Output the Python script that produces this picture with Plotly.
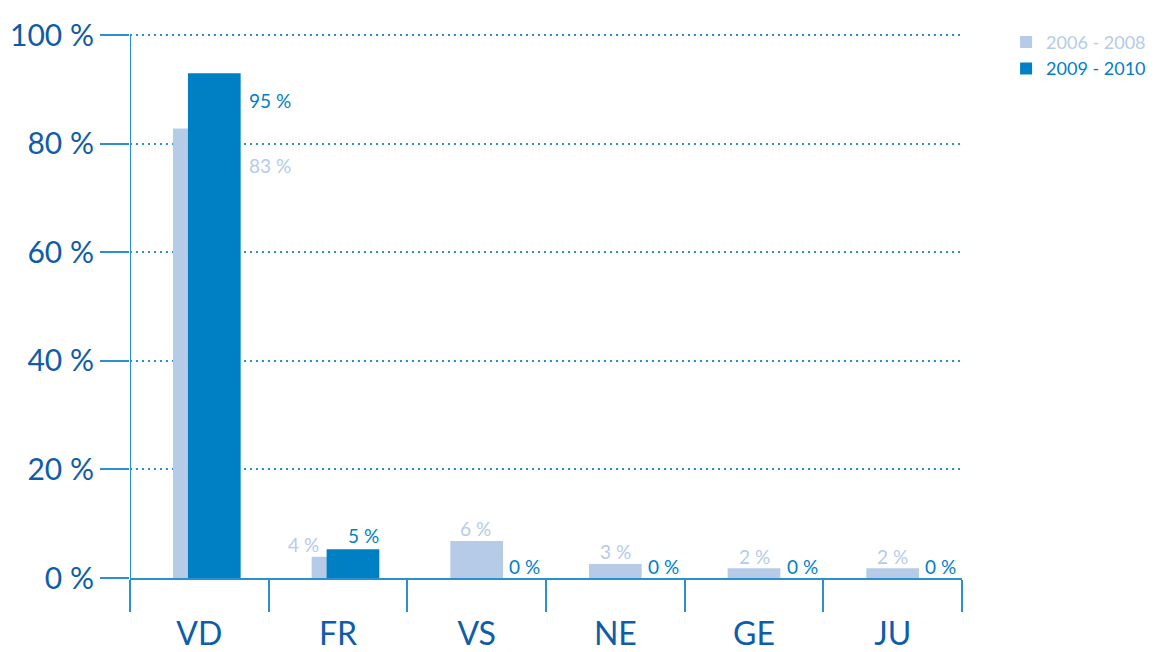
import plotly.graph_objects as go

# ---------------- data ----------------
categories = ["VD", "FR", "VS", "NE", "GE", "JU"]
series_names = ["2006 - 2008", "2009 - 2010"]
values_2006_2008 = [82.8, 3.9, 6.8, 2.6, 1.8, 1.8]
values_2009_2010 = [93.0, 5.3, 0.0, 0.0, 0.0, 0.0]
labels_2006_2008 = ["83 %", "4 %", "6 %", "3 %", "2 %", "2 %"]
labels_2009_2010 = ["95 %", "5 %", "0 %", "0 %", "0 %", "0 %"]
y_tick_values = [0, 20, 40, 60, 80, 100]
y_tick_labels = ["0 %", "20 %", "40 %", "60 %", "80 %", "100 %"]

# ---------------- style ----------------
FONT = "Lato, 'Open Sans', sans-serif"
LIGHT = "#b5cbe8"
DARK = "#0080c4"
AXIS = "#2b8fd0"
TICKTEXT = "#0f5ca8"
BAR_W = 0.38
DARK_SHIFT = 0.108
Y_TOP = 100.6          # a little headroom so the 100 % grid line is drawn
PX_PER_UNIT = 543 / 100
FIG_W, FIG_H = 1146, 644
BOTTOM = 74
LEGEND_TOP_PX = 15.6   # legend box top, in figure pixels

# label offsets in pixels (xshift, yshift) relative to category centre / bar top
light_offsets = [(71, -37), (-35, 12), (-1, 13), (0, 12), (0, 12), (0, 12)]
dark_offsets = [(71, -27), (25, 14), (48, 12), (48, 12), (48, 12), (48, 12)]

idx = list(range(len(categories)))

fig = go.Figure()
fig.add_trace(go.Bar(
    x=idx, y=values_2006_2008, width=BAR_W, offset=-BAR_W / 2,
    marker=dict(color=LIGHT, line=dict(width=0)),
    name=f"<span style='color:{LIGHT}'>{series_names[0]}</span>",
    hoverinfo="skip",
))
fig.add_trace(go.Bar(
    x=idx, y=values_2009_2010, width=BAR_W, offset=-BAR_W / 2 + DARK_SHIFT,
    marker=dict(color=DARK, line=dict(width=0)),
    name=f"<span style='color:{DARK}'>{series_names[1]}</span>",
    hoverinfo="skip",
))

annotations = []
for i in idx:
    for vals, labs, offs, col in (
        (values_2006_2008, labels_2006_2008, light_offsets, LIGHT),
        (values_2009_2010, labels_2009_2010, dark_offsets, DARK),
    ):
        annotations.append(dict(
            x=i, y=vals[i], xref="x", yref="y", text=labs[i], showarrow=False,
            xshift=offs[i][0], yshift=offs[i][1],
            font=dict(family=FONT, size=19, color=col),
        ))

top_margin = 27 - (Y_TOP - 100) * PX_PER_UNIT
plot_h = FIG_H - top_margin - BOTTOM
legend_y = 1 + (top_margin - LEGEND_TOP_PX) / plot_h

fig.update_layout(
    width=FIG_W, height=FIG_H,
    margin=dict(l=122, r=192, t=top_margin, b=BOTTOM, autoexpand=False),
    paper_bgcolor="white", plot_bgcolor="white",
    barmode="overlay",
    font=dict(family=FONT),
    showlegend=True,
    legend=dict(
        x=1.053, y=legend_y,
        xanchor="left", yanchor="top",
        font=dict(family=FONT, size=18), bgcolor="rgba(0,0,0,0)",
        itemwidth=30, tracegroupgap=0,
    ),
    annotations=annotations,
    xaxis=dict(
        range=[-0.5, len(categories) - 0.5],
        tickmode="array", tickvals=idx, ticktext=categories,
        ticks="outside", ticklen=27, tickcolor="rgba(0,0,0,0)",
        tickfont=dict(family=FONT, size=32, color=TICKTEXT),
        showline=True, linecolor=AXIS, linewidth=2,
        showgrid=False, zeroline=False, automargin=False,
        minor=dict(
            tickmode="array",
            tickvals=[i - 0.5 for i in range(len(categories) + 1)],
            ticks="outside", ticklen=32, tickwidth=2, tickcolor=AXIS,
            showgrid=False,
        ),
    ),
    yaxis=dict(
        range=[0, Y_TOP],
        tickmode="array", tickvals=y_tick_values, ticktext=y_tick_labels,
        ticks="outside", ticklen=29, tickwidth=2, tickcolor=AXIS,
        tickfont=dict(family=FONT, size=30, color=TICKTEXT),
        showline=False,
        showgrid=True, gridcolor=AXIS, gridwidth=2, griddash="2px,4px",
        zeroline=False, automargin=False,
    ),
    shapes=[dict(
        type="line", xref="x", yref="y", x0=-0.5, x1=-0.5, y0=0, y1=100,
        line=dict(color=AXIS, width=2),
    )],
)

fig.write_html("out.html")
